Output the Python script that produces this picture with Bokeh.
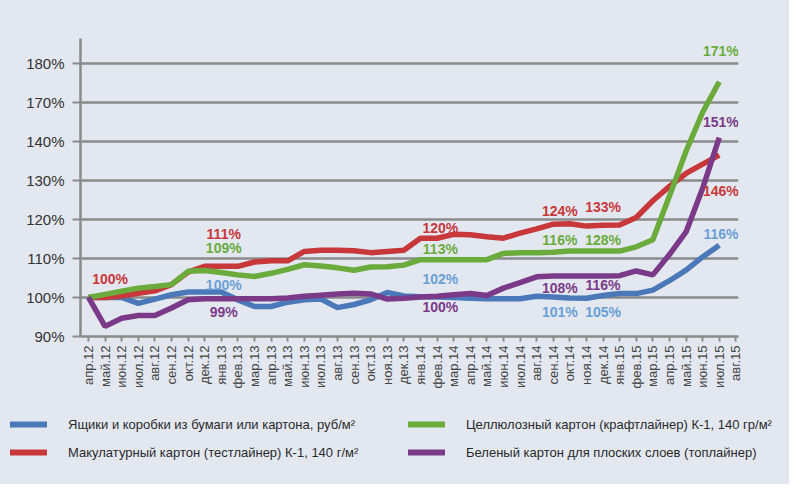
import math
from bokeh.plotting import figure
from bokeh.layouts import column
from bokeh.core.properties import value
from bokeh.models import (ColumnDataSource, Range1d, FixedTicker, LabelSet,
                          Legend, LegendItem)
from bokeh.embed import file_html
from bokeh.resources import INLINE

months = ["апр.12", "май.12", "июн.12", "июл.12", "авг.12", "сен.12", "окт.12", "дек.12",
          "янв.13", "фев.13", "мар.13", "апр.13", "май.13", "июн.13", "июл.13", "авг.13",
          "сен.13", "окт.13", "ноя.13", "дек.13", "янв.14", "фев.14", "мар.14", "апр.14",
          "май.14", "июн.14", "июл.14", "авг.14", "сен.14", "окт.14", "ноя.14", "дек.14",
          "янв.15", "фев.15", "мар.15", "апр.15", "май.15", "июн.15", "июл.15", "авг.15"]

boxes = [100, 100, 100, 98.5, 99.6, 100.7, 101.4, 101.4, 101.4, 99.4,
         97.7, 97.7, 98.8, 99.4, 99.6, 97.4, 98.2, 99.4, 101.3, 100.4,
         100.2, 100.1, 100.0, 99.8, 99.7, 99.7, 99.7, 100.3, 100.1, 99.9,
         99.8, 100.5, 101.0, 101.0, 101.9, 104.3, 107.0, 110.4, 113.4]

testliner = [100, 100, 100.4, 101.1, 101.7, 103.3, 106.5, 108, 108, 108,
             109.1, 109.4, 109.4, 111.8, 112.1, 112.1, 112.0, 111.5, 111.8, 112.1,
             115.2, 115.2, 116.2, 116.1, 115.6, 115.2, 116.5, 117.6, 118.8, 118.9,
             118.3, 118.5, 118.6, 120.5, 124.8, 128.5, 131.8, 134.2, 136.5]

kraftliner = [100, 100.8, 101.6, 102.4, 102.8, 103.3, 106.7, 106.9, 106.4, 105.8,
              105.4, 106.2, 107.2, 108.4, 108.1, 107.6, 107.0, 107.8, 107.9, 108.3,
              109.7, 109.7, 109.7, 109.7, 109.7, 111.3, 111.5, 111.5, 111.6, 111.9,
              111.9, 111.9, 111.9, 113.0, 114.8, 126.0, 137.5, 147.5, 155.3]

topliner = [100, 92.6, 94.7, 95.4, 95.4, 97.3, 99.4, 99.7, 99.7, 99.7,
            99.7, 99.7, 99.9, 100.3, 100.6, 100.9, 101.1, 100.9, 99.6, 99.8,
            100.1, 100.3, 100.7, 101.0, 100.5, 102.4, 103.8, 105.3, 105.5, 105.5,
            105.5, 105.5, 105.6, 106.8, 105.8, 111.0, 116.8, 128.0, 141.0]

y_ticks = [90, 100, 110, 120, 130, 140, 150, 160]
y_tick_labels = ["90%", "100%", "110%", "120%", "130%", "140%", "170%", "180%"]

names = ["Ящики и коробки из бумаги или картона, руб/м²",
         "Макулатурный картон (тестлайнер) К-1, 140 г/м²",
         "Целлюлозный картон (крафтлайнер) К-1, 140 гр/м²",
         "Беленый картон для плоских слоев (топлайнер)"]

# annotation labels (x = month index, y = chart value, text)
red_lbl_x = [1.3, 8.15, 21.2, 28.4, 31.0, 38.1]
red_lbl_y = [104.8, 116.3, 117.9, 122.3, 123.3, 127.4]
red_lbl_t = ["100%", "111%", "120%", "124%", "133%", "146%"]

green_lbl_x = [8.15, 21.2, 28.4, 31.0, 38.1]
green_lbl_y = [112.7, 112.5, 114.8, 114.8, 163.2]
green_lbl_t = ["109%", "113%", "116%", "128%", "171%"]

blue_lbl_x = [8.15, 21.2, 28.4, 31.0, 38.1]
blue_lbl_y = [103.1, 104.8, 96.2, 96.2, 116.3]
blue_lbl_t = ["100%", "102%", "101%", "105%", "116%"]

purple_lbl_x = [8.15, 21.2, 28.4, 31.0, 38.1]
purple_lbl_y = [96.2, 97.5, 102.5, 103.1, 145.1]
purple_lbl_t = ["99%", "100%", "108%", "116%", "151%"]

BG = "#e3e8f0"
FONT = "Liberation Sans"
C_BLUE, C_RED, C_GREEN, C_PURPLE = "#4a78b8", "#c8373a", "#6aab3c", "#7a3a88"
T_BLUE = "#6a9fd6"
W = 789

p = figure(width=W, height=400, output_backend="svg", toolbar_location=None,
           x_range=Range1d(-0.48, 39.16), y_range=Range1d(90, 166.4),
           min_border_left=80, min_border_right=51, min_border_top=38,
           min_border_bottom=64)
p.frame_align = False
p.background_fill_color = BG
p.border_fill_color = BG
p.outline_line_color = None

p.xgrid.visible = False
p.ygrid.ticker = FixedTicker(ticks=y_ticks[1:])
p.ygrid.grid_line_color = "#8a8a8a"
p.ygrid.grid_line_width = 2.5

p.yaxis.ticker = FixedTicker(ticks=y_ticks)
p.yaxis.major_label_overrides = {t: l for t, l in zip(y_ticks, y_tick_labels)}
p.yaxis.axis_line_color = "#8a8a8a"
p.yaxis.axis_line_width = 2.5
p.yaxis.major_tick_line_color = "#8a8a8a"
p.yaxis.major_tick_line_width = 2
p.yaxis.major_tick_out = 8
p.yaxis.major_tick_in = 0
p.yaxis.minor_tick_line_color = None
p.yaxis.major_label_standoff = 8
p.yaxis.major_label_text_font = FONT
p.yaxis.major_label_text_font_size = "15px"
p.yaxis.major_label_text_color = "#333333"

xt = list(range(len(months)))
p.xaxis.ticker = FixedTicker(ticks=xt)
p.xaxis.major_label_overrides = {i: m for i, m in zip(xt, months)}
p.xaxis.major_label_orientation = math.pi / 2
p.xaxis.axis_line_color = "#8a8a8a"
p.xaxis.axis_line_width = 2.5
p.xaxis.major_tick_line_color = "#8a8a8a"
p.xaxis.major_tick_line_width = 2
p.xaxis.major_tick_out = 5
p.xaxis.major_tick_in = 0
p.xaxis.minor_tick_line_color = None
p.xaxis.major_label_standoff = 4
p.xaxis.major_label_text_font = FONT
p.xaxis.major_label_text_font_size = "13px"
p.xaxis.major_label_text_color = "#444444"

x = list(range(len(boxes)))
series = [boxes, testliner, kraftliner, topliner]
colors = [C_BLUE, C_RED, C_GREEN, C_PURPLE]
for ys, col in zip(series, colors):
    p.line(x, ys, line_color=col, line_width=5.5)

for lx, ly, lt, col in [(red_lbl_x, red_lbl_y, red_lbl_t, C_RED),
                        (green_lbl_x, green_lbl_y, green_lbl_t, C_GREEN),
                        (blue_lbl_x, blue_lbl_y, blue_lbl_t, T_BLUE),
                        (purple_lbl_x, purple_lbl_y, purple_lbl_t, C_PURPLE)]:
    src = ColumnDataSource(dict(x=lx, y=ly, t=lt))
    p.add_layout(LabelSet(x="x", y="y", text="t", source=src, text_align="center",
                          text_baseline="middle", text_color=col, text_font=value(FONT),
                          text_font_style="bold", text_font_size="14px"))

# legend panel: a second figure whose frame covers all of it
lf = figure(width=W, height=84, output_backend="svg", toolbar_location=None,
            x_range=Range1d(0, 1), y_range=Range1d(0, 1),
            x_axis_location=None, y_axis_location=None,
            min_border_left=0, min_border_right=0, min_border_top=0, min_border_bottom=0)
lf.frame_align = False
lf.background_fill_color = BG
lf.border_fill_color = BG
lf.outline_line_color = None
lf.grid.visible = False
# same series, outside this panel's ranges: used only as legend swatches
swatches = [lf.line(x, ys, line_color=col, line_width=6, line_cap="round")
            for ys, col in zip(series, colors)]

def make_legend(idx, loc):
    return Legend(items=[LegendItem(label=names[i], renderers=[swatches[i]]) for i in idx],
                  location=loc, orientation="vertical",
                  background_fill_alpha=0, border_line_alpha=0, padding=0, margin=0,
                  spacing=10, glyph_width=37, glyph_height=18, label_height=18,
                  label_standoff=21, label_text_font=FONT, label_text_font_size="13px",
                  label_text_color="#2a2a2a")

lf.add_layout(make_legend([0, 1], (10, 23)))
lf.add_layout(make_legend([2, 3], (408, 23)))

layout = column(p, lf, spacing=0, styles={"background-color": BG})
open("out.html", "w").write(file_html(layout, INLINE))
